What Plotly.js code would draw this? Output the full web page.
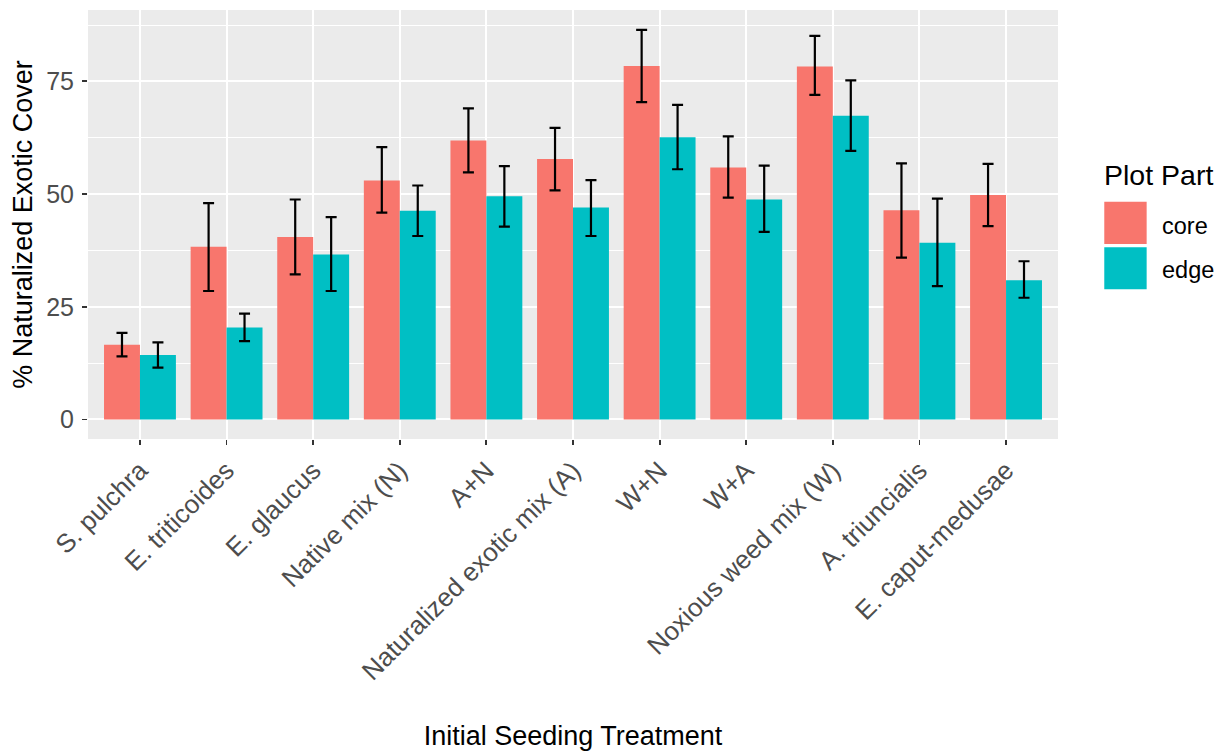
<!DOCTYPE html>
<html>
<head>
<meta charset="utf-8">
<script src="https://cdn.plot.ly/plotly-3.0.1.min.js"></script>
<style>html,body{margin:0;padding:0;background:#fff;}#chart{width:1225px;height:751px;}</style>
</head>
<body>
<div id="chart"></div>
<script>
const categories = ["S. pulchra","E. triticoides","E. glaucus","Native mix (N)","A+N","Naturalized exotic mix (A)","W+N","W+A","Noxious weed mix (W)","A. triuncialis","E. caput-medusae"];
const coreMean  = [16.6, 38.3, 40.5, 53.0, 61.9, 57.8, 78.4, 55.9, 78.3, 46.4, 49.8];
const coreUpper = [19.2, 48.0, 48.8, 60.4, 69.0, 64.7, 86.4, 62.8, 85.1, 56.8, 56.7];
const coreLower = [14.0, 28.5, 32.2, 45.9, 54.8, 50.8, 70.4, 49.2, 72.0, 35.9, 42.9];
const edgeMean  = [14.3, 20.4, 36.6, 46.3, 49.5, 47.0, 62.6, 48.8, 67.4, 39.2, 30.9];
const edgeUpper = [17.1, 23.5, 44.9, 51.9, 56.2, 53.1, 69.8, 56.3, 75.2, 49.0, 35.1];
const edgeLower = [11.5, 17.4, 28.5, 40.7, 42.8, 40.7, 55.5, 41.6, 59.6, 29.6, 27.0];
const seriesNames = ["core","edge"];
const seriesColors = ["#F8766D","#00BFC4"];
const yTicks = [0, 25, 50, 75];

function errObj(mean, up, lo){
  return {type:'data', symmetric:false,
    array: up.map((u,i)=>u-mean[i]),
    arrayminus: mean.map((m,i)=>m-lo[i]),
    color:'#000000', thickness:2.2, width:5.5};
}

const traces = [
  {type:'bar', name:seriesNames[0], x:categories, y:coreMean, marker:{color:seriesColors[0]}, error_y:errObj(coreMean,coreUpper,coreLower), showlegend:false, hoverinfo:'x+y'},
  {type:'bar', name:seriesNames[1], x:categories, y:edgeMean, marker:{color:seriesColors[1]}, error_y:errObj(edgeMean,edgeUpper,edgeLower), showlegend:false, hoverinfo:'x+y'}
];

const font = "Liberation Sans, Arial, sans-serif";
const PB = 439, PH = 429; // panel bottom / height in px (for paper coords)
const layout = {
  width:1225, height:751,
  margin:{l:87.5, r:167, t:10, b:312},
  paper_bgcolor:'#ffffff', plot_bgcolor:'#EBEBEB',
  barmode:'group', bargap:0.17, bargroupgap:0,
  font:{family:font, color:'#4D4D4D'},
  xaxis:{
    type:'category', range:[-0.6, 10.6],
    tickangle:-45, tickfont:{size:26, color:'#4D4D4D', family:font},
    ticks:'outside', ticklen:5, tickwidth:1.8, tickcolor:'#333333',
    showgrid:true, gridcolor:'#ffffff', gridwidth:2,
    zeroline:false, showline:false, automargin:false,
    title:{text:'Initial Seeding Treatment', font:{size:27, color:'#000000', family:font}, standoff:41}
  },
  yaxis:{
    range:[-4.33, 90.83], tickmode:'array', tickvals:yTicks, ticktext:yTicks.map(String),
    tickfont:{size:25, color:'#4D4D4D', family:font},
    ticks:'outside', ticklen:5, tickwidth:1.8, tickcolor:'#333333', ticklabelstandoff:3,
    showgrid:true, gridcolor:'#ffffff', gridwidth:2,
    minor:{tickmode:'array', tickvals:[12.5,37.5,62.5,87.5], showgrid:true, gridcolor:'#ffffff', gridwidth:1, ticks:''},
    zeroline:false, showline:false, automargin:false,
    title:{text:'% Naturalized Exotic Cover', font:{size:27, color:'#000000', family:font}, standoff:5}
  },
  shapes:[
    {type:'rect', xref:'paper', yref:'paper', x0:(1104.3-87.5)/970.5, x1:(1146.7-87.5)/970.5, y0:(PB-201.7)/PH, y1:(PB-244)/PH, fillcolor:seriesColors[0], line:{width:0}},
    {type:'rect', xref:'paper', yref:'paper', x0:(1104.3-87.5)/970.5, x1:(1146.7-87.5)/970.5, y0:(PB-247.3)/PH, y1:(PB-289.3)/PH, fillcolor:seriesColors[1], line:{width:0}}
  ],
  annotations:[
    {xref:'paper', yref:'paper', x:(1102.5-87.5)/970.5, y:(PB-175)/PH, xanchor:'left', yanchor:'middle', text:'Plot Part', showarrow:false, font:{size:28.5, color:'#000000', family:font}},
    {xref:'paper', yref:'paper', x:(1160-87.5)/970.5, y:(PB-226)/PH, xanchor:'left', yanchor:'middle', text:seriesNames[0], showarrow:false, font:{size:23.5, color:'#000000', family:font}},
    {xref:'paper', yref:'paper', x:(1160-87.5)/970.5, y:(PB-270.5)/PH, xanchor:'left', yanchor:'middle', text:seriesNames[1], showarrow:false, font:{size:23.5, color:'#000000', family:font}}
  ]
};
Plotly.newPlot('chart', traces, layout, {staticPlot:true, displayModeBar:false});
</script>
</body>
</html>
